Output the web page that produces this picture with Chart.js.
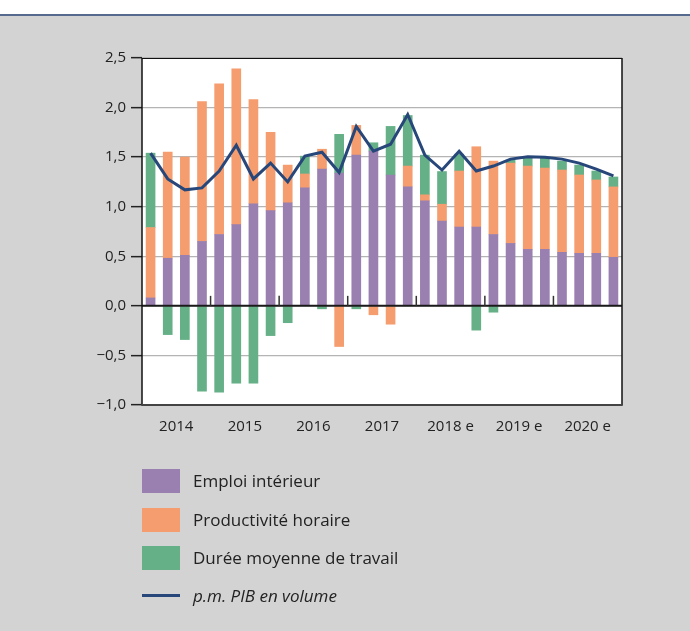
<!DOCTYPE html>
<html>
<head>
<meta charset="utf-8">
<script src="https://cdn.jsdelivr.net/npm/chart.js@4"></script>
<style>
  html, body { margin:0; padding:0; }
  body { width:690px; height:631px; background:#d3d3d3; position:relative; overflow:hidden; font-family:"Open Sans", sans-serif; }
  #topband { position:absolute; left:0; top:0; width:690px; height:14px; background:#ffffff; }
  #topline { position:absolute; left:0; top:14px; width:690px; height:2px; background:#566a8f; }
  #wrap { position:absolute; left:0; top:0; width:690px; height:631px; }
  .leg { position:absolute; left:142px; }
  .sw { position:absolute; left:0; width:38px; height:24px; }
  .lt { position:absolute; left:51px; white-space:nowrap; font-size:17px; color:#222; line-height:24px; }
</style>
</head>
<body>
<div id="topband"></div>
<div id="topline"></div>
<div id="wrap"><canvas id="c" width="690" height="631"></canvas></div>
<div class="leg" style="top:469px;"><div class="sw" style="background:#9a80b0;"></div><div class="lt" style="top:0;">Emploi intérieur</div></div>
<div class="leg" style="top:508px;"><div class="sw" style="background:#f59d6e;"></div><div class="lt" style="top:0;">Productivité horaire</div></div>
<div class="leg" style="top:546px;"><div class="sw" style="background:#66b088;"></div><div class="lt" style="top:0;">Durée moyenne de travail</div></div>
<div class="leg" style="top:584px;"><div class="sw" style="top:10px;height:3px;background:#27477a;"></div><div class="lt" style="top:0;font-style:italic;">p.m. PIB en volume</div></div>
<script>
const quarters = ['2014T1','2014T2','2014T3','2014T4','2015T1','2015T2','2015T3','2015T4','2016T1','2016T2','2016T3','2016T4','2017T1','2017T2','2017T3','2017T4','2018T1','2018T2','2018T3','2018T4','2019T1','2019T2','2019T3','2019T4','2020T1','2020T2','2020T3','2020T4'];
const yearLabels = ['2014','2015','2016','2017','2018 e','2019 e','2020 e'];
const emploi = [0.08,0.48,0.51,0.65,0.72,0.82,1.03,0.96,1.04,1.19,1.38,1.34,1.52,1.56,1.32,1.20,1.06,0.855,0.795,0.795,0.72,0.63,0.57,0.57,0.54,0.53,0.53,0.49];
const productivite = [0.71,1.07,0.99,1.41,1.52,1.57,1.05,0.79,0.38,0.14,0.20,-0.41,0.30,-0.09,-0.185,0.21,0.06,0.17,0.565,0.81,0.74,0.81,0.84,0.82,0.83,0.79,0.74,0.71];
const duree = [0.75,-0.29,-0.34,-0.86,-0.87,-0.78,-0.78,-0.30,-0.17,0.18,-0.03,0.39,-0.03,0.085,0.49,0.51,0.40,0.33,0.17,-0.245,-0.064,0.03,0.09,0.10,0.09,0.10,0.09,0.10];
const pib = [1.54,1.28,1.17,1.19,1.36,1.62,1.28,1.44,1.25,1.51,1.55,1.345,1.81,1.56,1.63,1.93,1.52,1.37,1.56,1.36,1.41,1.48,1.505,1.50,1.48,1.44,1.38,1.31];

const framePlugin = {
  id: 'frame',
  beforeDraw(chart) {
    const {ctx, chartArea: a} = chart;
    ctx.save();
    ctx.fillStyle = '#ffffff';
    ctx.fillRect(a.left, a.top, a.right - a.left, a.bottom - a.top);
    ctx.restore();
  },
  afterDatasetsDraw(chart) {
    const {ctx, chartArea: a, scales} = chart;
    const y0 = scales.y.getPixelForValue(0);
    ctx.save();
    // zero line
    ctx.strokeStyle = '#1a1a1a';
    ctx.lineWidth = 2;
    ctx.beginPath(); ctx.moveTo(a.left, y0); ctx.lineTo(a.right, y0); ctx.stroke();
    // year separators
    ctx.strokeStyle = '#333';
    ctx.lineWidth = 1.5;
    for (let k = 4; k < quarters.length; k += 4) {
      const xp = (scales.x.getPixelForValue(k - 1) + scales.x.getPixelForValue(k)) / 2;
      ctx.beginPath(); ctx.moveTo(xp, y0); ctx.lineTo(xp, y0 - 10); ctx.stroke();
    }
    ctx.restore();
  },
  afterDraw(chart) {
    const {ctx, chartArea: a} = chart;
    ctx.save();
    ctx.strokeStyle = '#111';
    ctx.lineWidth = 1;
    ctx.beginPath(); ctx.moveTo(a.left, a.top + 0.5); ctx.lineTo(a.right, a.top + 0.5); ctx.stroke();
    ctx.lineWidth = 1.5;
    ctx.beginPath(); ctx.moveTo(a.right, a.top); ctx.lineTo(a.right, a.bottom); ctx.stroke();
    ctx.beginPath(); ctx.moveTo(a.left, a.top); ctx.lineTo(a.left, a.bottom); ctx.stroke();
    ctx.strokeStyle = '#444';
    ctx.lineWidth = 2;
    ctx.beginPath(); ctx.moveTo(a.left - 0.75, a.bottom); ctx.lineTo(a.right + 0.75, a.bottom); ctx.stroke();
    ctx.restore();
  }
};

Chart.defaults.font.family = '"Open Sans", sans-serif';
Chart.defaults.color = '#222';

new Chart(document.getElementById('c'), {
  data: {
    labels: quarters,
    datasets: [
      { type:'line', label:'p.m. PIB en volume', data: pib, borderColor:'#27477a', borderWidth:3, pointRadius:0, tension:0, order:0, borderJoinStyle:'miter' },
      { type:'bar', label:'Emploi intérieur', data: emploi, backgroundColor:'#9a80b0', barThickness:9, order:1 },
      { type:'bar', label:'Productivité horaire', data: productivite, backgroundColor:'#f59d6e', barThickness:9, order:1 },
      { type:'bar', label:'Durée moyenne de travail', data: duree, backgroundColor:'#66b088', barThickness:9, order:1 }
    ]
  },
  options: {
    responsive:false,
    animation:false,
    layout: { padding: { top:58, right:68, bottom:196, left:0 } },
    plugins: { legend:{ display:false }, tooltip:{ enabled:false } },
    scales: {
      x: {
        stacked:true,
        grid:{ display:false, drawTicks:false },
        border:{ display:false },
        afterFit(s){ s.height = 30; },
        ticks:{
          autoSkip:false, maxRotation:0, minRotation:0, padding:13,
          labelOffset: 8.56,
          font:{ size:15 },
          color:'#222',
          callback(v, i){ return (i % 4 === 1) ? yearLabels[(i - 1) / 4] : ''; }
        }
      },
      y: {
        stacked:true,
        min:-1, max:2.5,
        afterFit(s){ s.width = 142; },
        border:{ display:false },
        grid:{ color:'#b4b4b4', lineWidth:1.3, tickLength:11, tickColor:'#222', tickWidth:1.5 },
        ticks:{
          stepSize:0.5, padding:5, font:{ size:15 }, color:'#222',
          callback(v){ return v.toFixed(1).replace('.', ',').replace('-', '\u2212'); }
        }
      }
    }
  },
  plugins:[framePlugin]
});
</script>
</body>
</html>
